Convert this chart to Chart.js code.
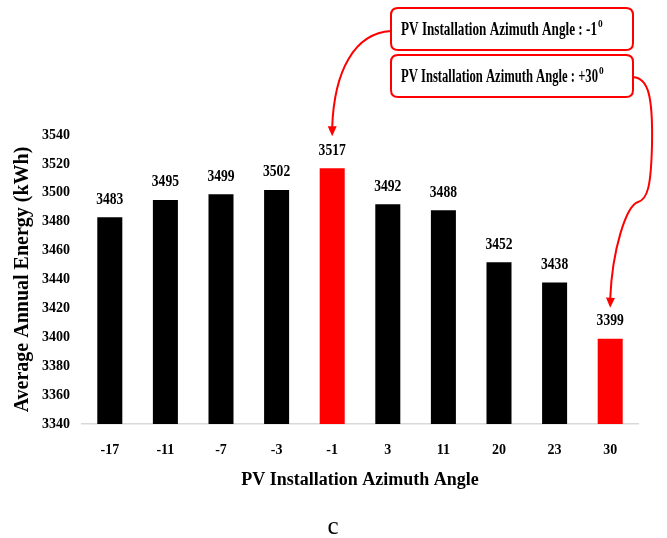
<!DOCTYPE html>
<html>
<head>
<meta charset="utf-8">
<script src="https://cdn.jsdelivr.net/npm/chart.js@4.4.1/dist/chart.umd.min.js"></script>
<style>
  html, body { margin: 0; padding: 0; background: #fff; }
  #wrap { width: 667px; height: 538px; }
</style>
</head>
<body>
<div id="wrap"><canvas id="chart" width="667" height="538"></canvas></div>
<script>
  const angles = ['-17', '-11', '-7', '-3', '-1', '3', '11', '20', '23', '30'];
  const energy = [3483, 3495, 3499, 3502, 3517, 3492, 3488, 3452, 3438, 3399];
  const highlighted = ['-1', '30'];
  const yMin = 3340;
  const yMax = 3540;
  const yStep = 20;
  const noteTexts = ['PV Installation Azimuth Angle : -1', 'PV Installation Azimuth Angle : +30'];
  const noteSup = '0';

  const RED = '#ff0000';
  const SERIF = '"Liberation Serif", "Times New Roman", serif';

  function condensedText(ctx, text, x, y, font, sx, align) {
    ctx.save();
    ctx.translate(x, y);
    ctx.scale(sx, 1);
    ctx.font = font;
    ctx.textAlign = align || 'center';
    ctx.textBaseline = 'middle';
    ctx.fillText(text, 0, 0);
    ctx.restore();
  }

  function roundRect(ctx, x, y, w, h, r) {
    ctx.beginPath();
    ctx.moveTo(x + r, y);
    ctx.lineTo(x + w - r, y);
    ctx.quadraticCurveTo(x + w, y, x + w, y + r);
    ctx.lineTo(x + w, y + h - r);
    ctx.quadraticCurveTo(x + w, y + h, x + w - r, y + h);
    ctx.lineTo(x + r, y + h);
    ctx.quadraticCurveTo(x, y + h, x, y + h - r);
    ctx.lineTo(x, y + r);
    ctx.quadraticCurveTo(x, y, x + r, y);
    ctx.closePath();
  }

  function arrowHead(ctx, tipX, tipY, angle) {
    const len = 10;
    const half = 4.5;
    ctx.save();
    ctx.translate(tipX, tipY);
    ctx.rotate(angle);
    ctx.beginPath();
    ctx.moveTo(0, 0);
    ctx.lineTo(-len, -half);
    ctx.lineTo(-len, half);
    ctx.closePath();
    ctx.fill();
    ctx.restore();
  }

  function drawNote(ctx, text, x, y, w, h, rightEdge) {
    ctx.save();
    roundRect(ctx, x, y, w, h, 7);
    ctx.fillStyle = '#fff';
    ctx.fill();
    ctx.strokeStyle = RED;
    ctx.lineWidth = 2;
    ctx.stroke();

    const font = 'bold 18px ' + SERIF;
    ctx.font = font;
    const natural = ctx.measureText(text).width;
    const sx = (rightEdge - (x + 10)) / natural;
    ctx.fillStyle = '#000';
    condensedText(ctx, text, x + 10, y + h / 2 + 1, font, sx, 'left');
    condensedText(ctx, noteSup, rightEdge + 1, y + h / 2 - 5, 'bold 11px ' + SERIF, 0.85, 'left');
    ctx.restore();
  }

  const annotationPlugin = {
    id: 'annotations',
    afterDatasetsDraw(chart) {
      const ctx = chart.ctx;
      const xs = chart.scales.x;
      const ys = chart.scales.y;
      const meta = chart.getDatasetMeta(0);

      // value labels over the bars
      ctx.save();
      ctx.fillStyle = '#000';
      meta.data.forEach((bar, i) => {
        condensedText(ctx, String(energy[i]), bar.x, bar.y - 18, 'bold 17px ' + SERIF, 0.8, 'center');
      });
      ctx.restore();

      // note boxes
      drawNote(ctx, noteTexts[0], 391, 8, 242, 42, 597);
      drawNote(ctx, noteTexts[1], 391, 55, 242, 42, 598);

      // arrows
      ctx.save();
      ctx.strokeStyle = RED;
      ctx.fillStyle = RED;
      ctx.lineWidth = 2;

      const i1 = angles.indexOf(highlighted[0]);
      const t1x = xs.getPixelForValue(i1);
      const t1y = ys.getPixelForValue(energy[i1]) - 32;
      ctx.beginPath();
      ctx.moveTo(391, 31);
      ctx.bezierCurveTo(355, 33, t1x + 2, 70, t1x, t1y - 9);
      ctx.stroke();
      arrowHead(ctx, t1x, t1y, Math.PI / 2);

      const i2 = angles.indexOf(highlighted[1]);
      const t2x = xs.getPixelForValue(i2);
      const t2y = ys.getPixelForValue(energy[i2]) - 31;
      ctx.beginPath();
      ctx.moveTo(633, 77);
      ctx.bezierCurveTo(648, 78, 653, 95, 652, 145);
      ctx.bezierCurveTo(651, 185, 648, 199, 638, 202);
      ctx.bezierCurveTo(626, 206, t2x + 2, 250, t2x, t2y - 9);
      ctx.stroke();
      arrowHead(ctx, t2x, t2y, Math.PI / 2 + 0.03);
      ctx.restore();

      // panel letter
      ctx.save();
      ctx.fillStyle = '#000';
      ctx.font = '25px ' + SERIF;
      ctx.textAlign = 'center';
      ctx.textBaseline = 'alphabetic';
      ctx.fillText('c', 333, 534);
      ctx.restore();
    }
  };

  new Chart(document.getElementById('chart'), {
    type: 'bar',
    data: {
      labels: angles,
      datasets: [{
        data: energy,
        backgroundColor: angles.map((a) => (highlighted.includes(a) ? RED : '#000000')),
        borderWidth: 0,
        barPercentage: 0.45,
        categoryPercentage: 1.0,
      }],
    },
    options: {
      responsive: false,
      animation: false,
      devicePixelRatio: 1,
      layout: { padding: { top: 135, right: 29, bottom: 0, left: 0 } },
      plugins: {
        legend: { display: false },
        tooltip: { enabled: false },
      },
      scales: {
        x: {
          grid: { display: false, drawTicks: false },
          border: { display: true, color: '#d9d9d9', width: 1.5 },
          ticks: {
            color: '#000',
            font: { family: SERIF, size: 14, weight: 'bold' },
            padding: 18,
            maxRotation: 0,
          },
          title: {
            display: true,
            text: 'PV Installation Azimuth Angle',
            color: '#000',
            font: { family: SERIF, size: 18, weight: 'bold' },
            padding: { top: 0, bottom: 47 },
          },
          afterFit(scale) { scale.height = 114; },
        },
        y: {
          min: yMin,
          max: yMax,
          grid: { display: false, drawTicks: false },
          border: { display: false },
          ticks: {
            stepSize: yStep,
            color: '#000',
            font: { family: SERIF, size: 14, weight: 'bold' },
            padding: 12,
            callback: (v) => String(v),
          },
          title: {
            display: true,
            text: 'Average Annual Energy (kWh)',
            color: '#000',
            font: { family: SERIF, size: 20, weight: 'bold' },
            padding: { top: 11, bottom: 0 },
          },
          afterFit(scale) { scale.width = 82; },
        },
      },
    },
    plugins: [annotationPlugin],
  });
</script>
</body>
</html>
